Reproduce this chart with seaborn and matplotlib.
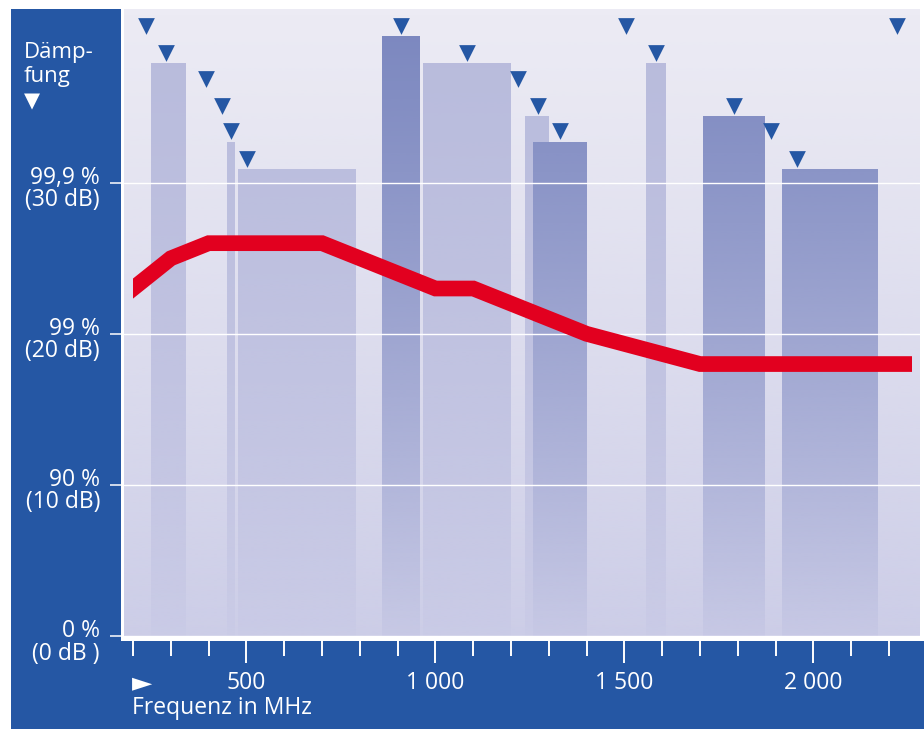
import numpy as np
import matplotlib
matplotlib.use("Agg")
import matplotlib.pyplot as plt
from matplotlib.patches import Rectangle
from matplotlib import transforms
import seaborn as sns

# Attenuation curve (red band)
curve_mhz = [200, 300, 400, 700, 1000, 1100, 1400, 1700, 2260]
curve_db = [23, 25, 26, 26, 23, 23, 20, 18, 18]

# Frequency bands: lower edge, upper edge, level, emphasis
band_lo = [248, 449, 478, 859, 967, 1237, 1258, 1557, 1708, 1917]
band_hi = [340, 470, 790, 959, 1200, 1300, 1401, 1610, 1872, 2171]
band_db = [37.9, 32.7, 30.9, 39.7, 37.9, 34.4, 32.7, 37.9, 34.4, 30.9]
band_dark = [False, False, False, True, False, False, True, False, True, True]

# Service markers
marker_mhz = [234, 287, 393, 435, 459, 501, 909, 1083, 1218, 1271, 1330,
              1504, 1584, 1790, 1888, 1956, 2221]
marker_db = [39.7, 37.9, 36.2, 34.4, 32.7, 30.9, 39.7, 37.9, 36.2, 34.4, 32.7,
             39.7, 37.9, 34.4, 32.7, 30.9, 39.7]

# Axis labels
grid_db = [0, 10, 20, 30]
grid_pct = ["0 %", "90 %", "99 %", "99,9 %"]
grid_db_text = ["(0 dB )", "(10 dB)", "(20 dB)", "(30 dB)"]
minor_mhz = list(range(200, 2201, 100))
major_mhz = [500, 1000, 1500, 2000]
major_text = ["500", "1 000", "1 500", "2 000"]

X_RANGE = (176, 2282)
Y_RANGE = (0, 41.5)

BLUE = "#2557a4"
RED = "#e2001f"
BG_TOP = "#ecebf4"
BAR_LIGHT = "#b8bbdc"
BAR_DARK = "#7b87bf"
HAZE = np.array([203, 204, 231]) / 255.0

sns.set_style("white")
plt.rcParams["font.family"] = ["Open Sans", "DejaVu Sans"]

W, H = 924, 729
fig = plt.figure(figsize=(W / 100, H / 100), dpi=100, facecolor="white")

# Blue frame panels (behind the axes and its ticks)
fig.patches.append(Rectangle((11 / W, 0), 110 / W, 720 / H, transform=fig.transFigure,
                             facecolor=BLUE, edgecolor="none", zorder=-5))
fig.patches.append(Rectangle((11 / W, 0), 913 / W, 88 / H, transform=fig.transFigure,
                             facecolor=BLUE, edgecolor="none", zorder=-5))

ax = fig.add_axes([124 / W, 1 - 636 / H, 796 / W, 627 / H])
ax.set_facecolor(BG_TOP)

# Bands: light ones first, emphasised ones on top
for dark_pass in (False, True):
    lo = [l for l, d in zip(band_lo, band_dark) if d == dark_pass]
    hi = [h for h, d in zip(band_hi, band_dark) if d == dark_pass]
    db = [v for v, d in zip(band_db, band_dark) if d == dark_pass]
    ax.bar(lo, db, width=np.array(hi) - np.array(lo), align="edge",
           color=BAR_DARK if dark_pass else BAR_LIGHT, linewidth=0, zorder=1)

# Vertical haze fading everything towards the bottom
t = np.linspace(0, 1, 400)
alpha = 0.96 * t ** 1.15
haze = np.zeros((len(t), 1, 4))
haze[:, 0, :3] = HAZE
haze[:, 0, 3] = alpha
ax.imshow(haze, extent=(X_RANGE[0], X_RANGE[1], Y_RANGE[0], Y_RANGE[1]),
          origin="upper", aspect="auto", interpolation="bilinear", zorder=2)

# Attenuation curve
sns.lineplot(x=curve_mhz, y=curve_db, color=RED, linewidth=11.3, estimator=None,
             sort=False, ax=ax, zorder=4, solid_capstyle="projecting",
             solid_joinstyle="miter")
curve_line = ax.lines[-1]
curve_line.set_clip_path(Rectangle((curve_mhz[0], Y_RANGE[0]), curve_mhz[-1] - curve_mhz[0],
                                   Y_RANGE[1] - Y_RANGE[0], transform=ax.transData))

# Markers sitting just above their level
marker_tf = transforms.offset_copy(ax.transData, fig=fig, x=0, y=10.5, units="dots")
sns.scatterplot(x=marker_mhz, y=marker_db, marker="v", s=145, color=BLUE,
                linewidth=0, ax=ax, zorder=5, transform=marker_tf, clip_on=False)

ax.set_xlim(*X_RANGE)
ax.set_ylim(*Y_RANGE)
for sp in ax.spines.values():
    sp.set_visible(False)

# Grid and ticks
ax.set_yticks(grid_db)
ax.set_yticklabels([])
ax.grid(axis="y", color="white", linewidth=1.0)
ax.grid(axis="x", visible=False)
ax.set_axisbelow(False)
ax.tick_params(axis="y", direction="out", length=10, width=1.1, color="white", left=True)

ax.set_xticks(major_mhz)
ax.set_xticklabels(major_text)
ax.set_xticks(minor_mhz, minor=True)
ax.tick_params(axis="x", which="major", direction="out", length=19.4, width=1.4,
               color="white", labelcolor="white", labelsize=16.5, pad=6, bottom=True)
ax.tick_params(axis="x", which="minor", direction="out", length=14.4, width=1.4,
               color="white", bottom=True)

for db, pct, dbt in zip(grid_db, grid_pct, grid_db_text):
    ax.annotate(pct, xy=(0, db), xycoords=("axes fraction", "data"), xytext=(-24, -1),
                textcoords="offset pixels", ha="right", va="baseline",
                color="white", fontsize=16.5, annotation_clip=False)
    ax.annotate(dbt, xy=(0, db), xycoords=("axes fraction", "data"), xytext=(-24, -23.5),
                textcoords="offset pixels", ha="right", va="baseline",
                color="white", fontsize=16.5, annotation_clip=False)

# Axis titles
fig.text(24 / W, 1 - 58 / H, "Dämp-", color="white", fontsize=16, ha="left", va="baseline")
fig.text(24 / W, 1 - 82 / H, "fung", color="white", fontsize=16, ha="left", va="baseline")
fig.text(31.5 / W, 1 - 101 / H, "▼", color="white", fontsize=15, ha="center", va="center",
         family="DejaVu Sans")

ax.annotate("►", xy=(0, 0), xycoords="axes fraction", xytext=(8, -47),
            textcoords="offset pixels", ha="left", va="center", color="white",
            fontsize=19, family="DejaVu Sans", annotation_clip=False)
ax.annotate("Frequenz in MHz", xy=(0, 0), xycoords="axes fraction", xytext=(8, -77.5),
            textcoords="offset pixels", ha="left", va="baseline", color="white",
            fontsize=16.5, annotation_clip=False)

fig.savefig("out.png", dpi=100, facecolor="white")
